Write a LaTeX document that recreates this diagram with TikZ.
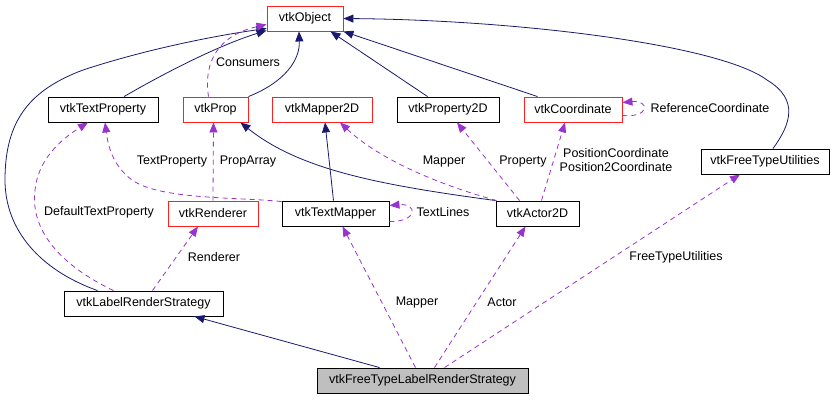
\documentclass[tikz,border=0pt]{standalone}
\usepackage{fontspec}
\setmainfont{Liberation Sans}
\usetikzlibrary{arrows.meta,calc}
\definecolor{navy}{HTML}{191970}
\definecolor{purp}{HTML}{9A32CD}
\definecolor{grayfill}{HTML}{BFBFBF}
\definecolor{boxred}{HTML}{FF2020}
\begin{document}
\begin{tikzpicture}[x=1pt,y=-1pt,
  every node/.style={font=\fontsize{12.5}{14}\selectfont},
  cls/.style={draw=black, fill=white, line width=0.9pt, minimum height=25, inner sep=0pt},
  redcls/.style={cls, draw=boxred},
  maincls/.style={cls, fill=grayfill},
  inh/.style={draw=navy, line width=0.8pt, -{Triangle[length=10pt,width=8pt]}},
  use/.style={draw=purp, line width=0.8pt, dash pattern=on 5pt off 4pt, -{Triangle[length=10pt,width=8pt]}},
  lbl/.style={inner sep=0pt, align=center}]
\path[use as bounding box] (0,0) rectangle (835,400);

% classes
\node[redcls, minimum width=76] (obj) at (305,18.5) {vtkObject};
\node[cls, minimum width=110] (tprop) at (103,109.5) {vtkTextProperty};
\node[redcls, minimum width=65] (prop) at (215.5,109.5) {vtkProp};
\node[redcls, minimum width=100] (map2d) at (322,109.5) {vtkMapper2D};
\node[cls, minimum width=102] (p2d) at (448,109.5) {vtkProperty2D};
\node[redcls, minimum width=98] (coord) at (573,109.5) {vtkCoordinate};
\node[cls, minimum width=128] (ftu) at (765,161.5) {vtkFreeTypeUtilities};
\node[redcls, minimum width=90] (ren) at (213,213.5) {vtkRenderer};
\node[cls, minimum width=107] (tmap) at (335.5,213.5) {vtkTextMapper};
\node[cls, minimum width=83] (actor) at (537.5,213.5) {vtkActor2D};
\node[cls, minimum width=159] (lrs) at (143.5,303.5) {vtkLabelRenderStrategy};
\node[maincls, minimum width=211] (main) at (422.5,380.5) {vtkFreeTypeLabelRenderStrategy};

% inheritance
\draw[inh] ($(tprop.north)+(21,0)$) .. controls (170,70) and (220,45) .. ($(obj.south west)+(0,-1)$);
\draw[inh] (prop.north east) .. controls (285,82) and (300,60) .. ($(obj.south)+(-6,0)$);
\draw[inh] ($(p2d.north west)+(31,0)$) -- ($(obj.south east)+(-13,0)$);
\draw[inh] ($(coord.north west)+(14,0)$) -- (obj.south east);
\draw[inh] ($(ftu.north)+(8,0)$) .. controls (790,125) and (800,100) .. (767,80)
  .. controls (720,45) and (520,20) .. (obj.east);
\draw[inh] ($(lrs.north)+(-46,0)$) .. controls (40,270) and (5,230) .. (5,180)
  .. controls (5,120) and (30,90) .. (83,70)
  .. controls (150,48) and (220,35) .. ($(obj.west)+(0,10)$);
\draw[inh] ($(tmap.north)+(-2,0)$) -- ($(map2d.south)+(3,0)$);
\draw[inh] (actor.north west) .. controls (380,185) and (300,170) .. ($(prop.south east)+(-8,0)$);
\draw[inh] ($(main.north west)+(63,0)$) -- ($(lrs.south)+(51,0)$);

% usage
\draw[use] ($(prop.north)+(-7,0)$) .. controls (203,60) and (220,35) .. ($(obj.west)+(0,6)$);
\draw[use] (ren.north) -- ($(prop.south)+(-2,0)$);
\draw[use] ($(tmap.north west)+(0,1)$) .. controls (240,197) and (160,200) .. (132,180)
  .. controls (112,165) and (108,145) .. ($(tprop.south)+(2,0)$);
\draw[use] ($(lrs.north)+(-30,0)$) .. controls (60,265) and (30,230) .. (35,190)
  .. controls (38,160) and (60,140) .. ($(tprop.south)+(-15,0)$);
\draw[use] ($(lrs.north)+(9,0)$) -- ($(ren.south)+(-15,0)$);
\draw[use] ($(actor.north west)+(1,0)$) .. controls (440,185) and (380,160) .. ($(map2d.south)+(18,0)$);
\draw[use] ($(actor.north west)+(24,0)$) -- ($(p2d.south)+(9,0)$);
\draw[use] ($(actor.north)+(4,0)$) -- ($(coord.south)+(-8,0)$);
\draw[use] ($(coord.east)+(0,6)$) .. controls (650,118) and (650,100) .. ($(coord.east)+(0,-7)$);
\draw[use] ($(tmap.east)+(0,8)$) .. controls (418,222) and (418,203) .. ($(tmap.east)+(0,-8)$);
\draw[use] ($(main.north)+(-7,0)$) -- ($(tmap.south)+(7,0)$);
\draw[use] ($(main.north)+(12,0)$) -- ($(actor.south)+(-12,0)$);
\draw[use] ($(main.north)+(22,0)$) -- ($(ftu.south)+(-25,0)$);

% labels
\node[lbl] (lConsumers) at (248,62) {Consumers};
\node[lbl] (lPropArray) at (248,161) {PropArray};
\node[lbl] (lTextProperty) at (172,161) {TextProperty};
\node[lbl] (lDefTP) at (99,212) {DefaultTextProperty};
\node[lbl] (lRenderer) at (214,257) {Renderer};
\node[lbl] (lMapper1) at (444,161) {Mapper};
\node[lbl] (lProperty) at (523,161) {Property};
\node[lbl] (lPosition) at (616,160) {PositionCoordinate\\Position2Coordinate};
\node[lbl] (lRefCoord) at (710,108) {ReferenceCoordinate};
\node[lbl] (lTextLines) at (443,212) {TextLines};
\node[lbl] (lFTU) at (676,257) {FreeTypeUtilities};
\node[lbl] (lMapper2) at (417,302) {Mapper};
\node[lbl] (lActor) at (502,302) {Actor};
\end{tikzpicture}
\end{document}
